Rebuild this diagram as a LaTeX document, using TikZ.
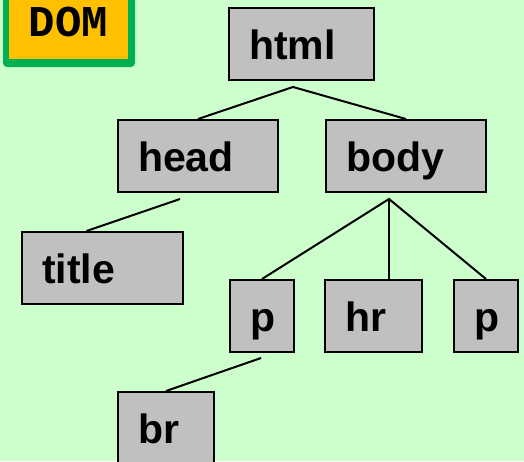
\documentclass[tikz,border=0pt]{standalone}
\usepackage{fontspec}
\setmainfont{Liberation Sans}
\newfontfamily\monobold{Liberation Mono}
\usetikzlibrary{calc}
\definecolor{bgmint}{HTML}{CCFFCC}
\definecolor{boxgray}{HTML}{C0C0C0}
\definecolor{tagorange}{HTML}{FFC000}
\definecolor{tagframe}{HTML}{00B050}
\tikzset{
  elem/.style={draw=black, line width=2pt, fill=boxgray, anchor=north west,
    inner xsep=20pt, inner ysep=0pt, text height=51pt, text depth=21pt,
    align=left, font=\fontsize{41}{41}\selectfont\bfseries},
  link/.style={draw=black, line width=2pt}
}
\begin{document}
\begin{tikzpicture}[x=1pt, y=-1pt]
  % canvas
  \fill[bgmint] (0,0) rectangle (524,461);
  \useasboundingbox (0,0) rectangle (524,461);
  \begin{scope}
    \clip (0,0) rectangle (524,461);
    % DOM tag in the corner
    \fill[tagframe, rounded corners=4pt] (3,-12) rectangle (135,67);
    \fill[tagorange] (9,-12) rectangle (128,59);
    \node[anchor=base, inner sep=0pt, font=\fontsize{44}{44}\selectfont\monobold\bfseries] (dom) at (68.5,36) {DOM};

    % element boxes
    \node[elem, text width=105pt] (html)  at (228,7)   {html};
    \node[elem, text width=120pt] (head)  at (117,119) {head};
    \node[elem, text width=120pt] (body)  at (325,119) {body};
    \node[elem, text width=121pt] (title) at (21,231)  {title};
    \node[elem, text width=24pt]  (p1)    at (229,279) {p};
    \node[elem, text width=57pt]  (hr)    at (324,279) {hr};
    \node[elem, text width=24pt]  (p2)    at (453,279) {p};
    \node[elem, text width=56pt]  (br)    at (117,391) {br};

    % branch points
    \coordinate (htmljoin) at (293,87);
    \coordinate (headjoin) at (180,199);
    \coordinate (bodyjoin) at (389,199);
    \coordinate (pjoin)    at (261,358);

    % connectors
    \draw[link] (head.north) -- (htmljoin) -- (body.north);
    \draw[link] (headjoin) -- ($(title.north)+(-16,0)$);
    \draw[link] (p1.north) -- (bodyjoin) -- (p2.north);
    \draw[link] (bodyjoin) -- (bodyjoin |- hr.north);
    \draw[link] (pjoin) -- (br.north);
  \end{scope}
\end{tikzpicture}
\end{document}
